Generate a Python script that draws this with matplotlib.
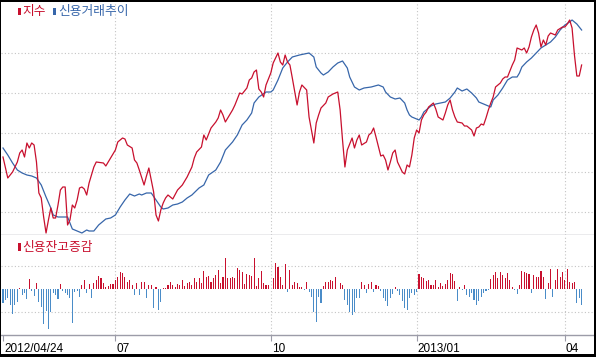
import numpy as np
import matplotlib
matplotlib.use('Agg')
from matplotlib import pyplot as plt
from matplotlib.patches import Rectangle
from matplotlib.transforms import ScaledTranslation

# ============= data (x = trading day since 2012/04/24) =============
# index line (red), (day, level)
index_pts = [(0, 93), (2, 72), (4, 78), (6, 88), (7, 97), (8, 100), (9, 93), (10, 107), (11, 102), (12, 107),
             (13, 105), (14, 88), (15, 57), (16, 52), (17, 33), (18, 17), (19, 30), (20, 42), (21, 32), (22, 32),
             (23, 45), (24, 60), (25, 63), (26, 63), (27, 25), (28, 30), (29, 45), (30, 42), (31, 50), (32, 62),
             (33, 63), (34, 61), (35, 55), (36, 67), (38, 83), (39, 88), (42, 87), (43, 84), (45, 92), (47, 100),
             (48, 108), (50, 112), (51, 111), (52, 105), (54, 102), (55, 90), (56, 87), (57, 80), (59, 65), (60, 74),
             (61, 82), (62, 70), (63, 58), (64, 35), (65, 29), (66, 40), (67, 47), (68, 52), (69, 55), (71, 51),
             (73, 60), (75, 65), (77, 73), (79, 83), (80, 92), (81, 98), (83, 103), (84, 115), (85, 110), (87, 122),
             (89, 128), (90, 132), (91, 140), (92, 135), (93, 128), (94, 132), (96, 140), (97, 145), (99, 157), (100, 156),
             (102, 162), (103, 170), (104, 172), (105, 178), (106, 180), (107, 161), (108, 158), (109, 153), (110, 165), (112, 177),
             (113, 187), (114, 192), (115, 197), (116, 188), (117, 185), (118, 195), (119, 188), (120, 185), (121, 172), (123, 145),
             (124, 158), (125, 165), (127, 160), (128, 133), (130, 107), (131, 127), (132, 135), (133, 142), (135, 147), (136, 153),
             (138, 156), (140, 158), (141, 140), (142, 110), (143, 83), (144, 100), (146, 112), (147, 102), (148, 110), (149, 115),
             (150, 105), (152, 108), (153, 115), (154, 117), (155, 122), (156, 113), (158, 94), (159, 95), (160, 90), (161, 80),
             (162, 88), (163, 97), (164, 100), (165, 88), (167, 78), (168, 76), (169, 85), (170, 83), (171, 95), (172, 112),
             (173, 120), (174, 117), (175, 130), (176, 135), (177, 138), (178, 143), (180, 147), (181, 141), (182, 133), (184, 130),
             (185, 137), (186, 145), (187, 150), (188, 140), (189, 133), (190, 128), (192, 127), (193, 124), (194, 124), (196, 120),
             (197, 114), (198, 122), (199, 123), (200, 126), (201, 125), (202, 132), (203, 140), (204, 147), (205, 153), (206, 163),
             (208, 167), (209, 171), (210, 173), (211, 173), (213, 185), (214, 190), (215, 202), (217, 200), (218, 202), (219, 197),
             (220, 203), (221, 213), (222, 220), (223, 225), (224, 217), (225, 203), (226, 210), (227, 205), (228, 214), (229, 217),
             (231, 215), (232, 220), (234, 223), (235, 223), (236, 226), (237, 230), (238, 222), (239, 195), (240, 174), (241, 174),
             (242, 185)]

# credit trading trend (blue), same scale
credit_pts = [(0, 102), (2, 95), (4, 87), (6, 80), (8, 77), (10, 75), (12, 74), (14, 72), (16, 65), (18, 53),
              (20, 42), (21, 35), (23, 33), (27, 33), (28, 27), (29, 21), (31, 19), (33, 17), (35, 20), (36, 19),
              (38, 19), (40, 25), (43, 31), (45, 32), (47, 35), (49, 43), (51, 50), (53, 56), (55, 54), (57, 56),
              (58, 55), (60, 57), (62, 57), (64, 50), (66, 43), (67, 41), (69, 42), (71, 45), (73, 46), (75, 48),
              (77, 52), (79, 55), (82, 62), (84, 65), (86, 75), (89, 80), (91, 88), (93, 100), (96, 108), (98, 115),
              (100, 125), (102, 130), (104, 137), (105, 147), (107, 153), (110, 158), (112, 158), (113, 160), (115, 170), (117, 182),
              (119, 188), (121, 193), (124, 195), (126, 196), (128, 197), (130, 193), (131, 183), (133, 177), (134, 175), (136, 178),
              (138, 183), (140, 187), (142, 189), (144, 182), (145, 173), (147, 163), (149, 160), (151, 162), (154, 163), (157, 165),
              (159, 163), (160, 158), (162, 153), (164, 151), (166, 152), (168, 147), (169, 140), (170, 135), (171, 133), (174, 130),
              (175, 133), (176, 138), (179, 144), (181, 146), (183, 147), (185, 148), (187, 152), (189, 158), (190, 162), (192, 159),
              (193, 160), (194, 161), (196, 157), (198, 152), (199, 148), (202, 145), (204, 143), (205, 150), (207, 155), (209, 162),
              (211, 170), (213, 173), (215, 173), (216, 177), (217, 183), (219, 188), (221, 192), (223, 197), (225, 202), (227, 205),
              (229, 208), (231, 213), (233, 220), (235, 225), (237, 228), (238, 230), (240, 226), (242, 220)]

# daily change of credit balance (one bar per trading day)
balance_chg = [-14, -11, -9, -16, -25, -16, -13, 1, -6, -4,
               -10, 10, -2, -7, 6, -13, -18, -35, -22, -40,
               -23, -4, -6, -10, 5, -2, -4, -6, -9, -34,
               -3, -2, -8, 4, 9, -4, 5, -9, 6, 9,
               13, 11, 6, 2, 3, 5, 5, 9, 12, 17,
               16, 12, 7, 9, 4, -6, 6, -6, 7, 7,
               -9, 4, 4, -19, 2, -21, -13, 1, 1, 4,
               7, 4, 2, 5, 4, 9, 3, 6, 7, 4,
               11, 7, 11, 6, 18, 12, 13, 7, 11, 14,
               19, 6, 12, 31, 11, 11, 12, 11, 21, 19,
               17, 5, 15, 14, 13, 31, 3, 11, 18, 6,
               4, 4, 0, 11, 26, 22, 12, 4, 25, -3,
               19, 4, 7, 6, 2, 2, -1, 7, -3, -8,
               -23, -33, -8, -14, 3, 7, 7, 9, 8, 12,
               0, 6, 4, -11, -16, -23, -26, -23, -9, -9,
               7, 4, -4, 5, 7, -3, 4, 3, -2, -9,
               -12, -17, -9, -5, 2, -2, -6, -12, -19, -21,
               -9, -4, -6, -3, 15, 12, 11, 8, 9, 4,
               4, 9, 2, 6, 3, 5, 9, 16, 15, 8,
               -12, 2, -1, 4, -6, -8, -4, -11, -16, -12,
               -8, -4, -2, -1, 10, 14, 17, 11, 17, 14,
               11, 16, 9, 2, -1, -5, 4, 18, 17, 16,
               15, -4, 14, 12, 12, 18, 12, -10, 6, 20,
               -8, 9, 20, 12, 17, 9, 20, 7, 6, 7,
               -14, -9, -16]

tick_days = [0, 47, 112, 173, 235]
tick_labels = ['2012/04/24', '07', '10', '2013/01', '04']

# ============= styling =============
W, H = 596, 357
RED = '#c8102e'
BLUE = '#3766aa'
BAR_BLUE = '#4a8cc8'
SEP = '#9c9ca8'
GRID = '#c4c4c4'
KR_FONT = ['Noto Sans CJK KR', 'DejaVu Sans']
NUM_FONT = ['Liberation Sans', 'DejaVu Sans']


def px_box(x0, y0, x1, y1):
    # pixel box measured from the top-left corner -> figure fraction
    return [x0 / W, 1 - y1 / H, (x1 - x0) / W, (y1 - y0) / H]


fig = plt.figure(figsize=(W / 100, H / 100), dpi=100)
fig.patch.set_facecolor('white')

ax1 = fig.add_axes(px_box(1, 2, 594, 235))
ax2 = fig.add_axes(px_box(1, 235, 594, 335), sharex=ax1)

# day -> pixel is roughly 3 + 2.391*day
xlim = ((1 - 3) / 2.391, (594 - 3) / 2.391)

# --- upper panel: index and credit trend
d, v = zip(*index_pts)
ax1.plot(d, v, color=RED, lw=0.9, zorder=3)
d, v = zip(*credit_pts)
ax1.plot(d, v, color=BLUE, lw=0.9, zorder=2)
ax1.set_ylim(15, 248)
ax1.set_yticks([38, 78, 117, 157, 197])

# --- lower panel: credit balance change
days = np.arange(len(balance_chg))
vals = np.array(balance_chg)
cols = [RED if x > 0 else BAR_BLUE for x in vals]
ax2.bar(days, vals, width=0.45, color=cols, linewidth=0, antialiased=False, zorder=3)
ax2.set_ylim(-45.7, 54.3)
ax2.set_yticks([-23, 23])

for ax in (ax1, ax2):
    ax.set_xlim(*xlim)
    ax.grid(True, linestyle=(0, (1, 2)), color=GRID, lw=0.8, zorder=0)
    for s in ('top', 'left', 'right'):
        ax.spines[s].set_visible(False)
    ax.spines['bottom'].set_color(SEP)
    ax.spines['bottom'].set_linewidth(1.0)
    ax.tick_params(axis='y', length=0, labelleft=False)

ax2.set_xticks(tick_days)
ax2.set_xticklabels(tick_labels, ha='left', fontsize=8.5, family=NUM_FONT, color='black')
ax2.tick_params(axis='x', direction='out', length=4, width=0.8, color=SEP, pad=1.5)
ax1.tick_params(axis='x', length=0, labelbottom=False)
# only vertical grid on the month boundaries (not at the first day)
for ax in (ax1, ax2):
    ax.xaxis.get_gridlines()[0].set_visible(False)
shift = ScaledTranslation(1.0 / 100, 0, fig.dpi_scale_trans)
for lab in ax2.get_xticklabels():
    lab.set_transform(lab.get_transform() + shift)

# --- legends
fig.add_artist(Rectangle((18 / W, 1 - 15 / H), 3 / W, 7 / H, color=RED, lw=0))
fig.text(22 / W, 1 - 12 / H, '지수', color=RED, fontsize=9.2, family=KR_FONT, va='center')
fig.add_artist(Rectangle((53 / W, 1 - 15 / H), 3 / W, 7 / H, color=BLUE, lw=0))
fig.text(58 / W, 1 - 12 / H, '신용거래추이', color=BLUE, fontsize=9.2, family=KR_FONT, va='center')

fig.add_artist(Rectangle((18 / W, 1 - 251 / H), 3 / W, 8 / H, color=RED, lw=0))
fig.text(22 / W, 1 - 247 / H, '신용잔고증감', color=RED, fontsize=9.2, family=KR_FONT, va='center')

# --- black frame round the whole chart
for x0, y0, x1, y1 in [(0, 0, W, 2), (0, 0, 1, H), (594, 0, W, H), (0, 354, W, H)]:
    fig.add_artist(Rectangle((x0 / W, 1 - y1 / H), (x1 - x0) / W, (y1 - y0) / H,
                             color='black', lw=0, zorder=10))

plt.savefig('out.png', dpi=100)
plt.close()
